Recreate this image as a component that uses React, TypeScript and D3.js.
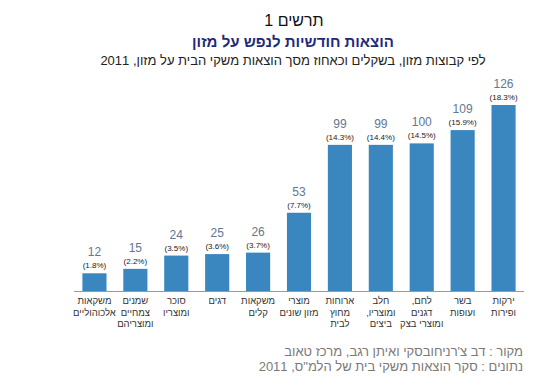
import React from "react";
import * as d3 from "d3";

const categories: string[][] = [
  ["משקאות", "אלכוהוליים"],
  ["שמנים", "צמחיים", "ומוצריהם"],
  ["סוכר", "ומוצריו"],
  ["דגים"],
  ["משקאות", "קלים"],
  ["מוצרי", "מזון שונים"],
  ["ארוחות", "מחוץ", "לבית"],
  ["חלב", "ומוצריו,", "ביצים"],
  ["לחם,", "דגנים", "ומוצרי בצק"],
  ["בשר", "ועופות"],
  ["ירקות", "ופירות"],
];
const values: number[] = [12, 15, 24, 25, 26, 53, 99, 99, 100, 109, 126];
const percents: number[] = [1.8, 2.2, 3.5, 3.6, 3.7, 7.7, 14.3, 14.4, 14.5, 15.9, 18.3];

const W = 536;
const H = 387;
const FONT = "'Liberation Sans', Arial, sans-serif";

export default function App() {
  const idx = values.map((_, i) => String(i));
  const x = d3.scaleBand<string>().domain(idx).range([74, 524]).paddingInner(0.41).paddingOuter(0.205);
  const y = d3.scaleLinear().domain([0, 126]).range([291, 105]);

  return (
    <svg width={W} height={H} style={{ position: "absolute", left: 0, top: 0, background: "#fff" }} fontFamily={FONT}>
      <text x={294} y={26} textAnchor="middle" fontSize={16} fontWeight="normal" fill="#111" direction="rtl">תרשים 1</text>
      <text x={293} y={47} textAnchor="middle" fontSize={15} fontWeight="bold" fill="#1f2a7a" direction="rtl">הוצאות חודשיות לנפש על מזון</text>
      <text x={293} y={65} textAnchor="middle" fontSize={13} fill="#222" direction="rtl">לפי קבוצות מזון, בשקלים וכאחוז מסך הוצאות משקי הבית על מזון, 2011</text>

      {values.map((v, i) => {
        const bx = x(String(i))!;
        const bw = x.bandwidth();
        const cx = bx + bw / 2;
        const top = y(v);
        return (
          <g key={i}>
            <rect x={bx} y={top} width={bw} height={y(0) - top} fill="#3a87c0" />
            <text x={cx} y={top - 17} textAnchor="middle" fontSize={12} fill="#62778f">{v}</text>
            <text x={cx} y={top - 5} textAnchor="middle" fontSize={8} fill="#222">({percents[i].toFixed(1)}%)</text>
            {categories[i].map((line, j) => (
              <text key={j} x={cx} y={304 + j * 11.5} textAnchor="middle" fontSize={9.5} fill="#333" direction="rtl">{line}</text>
            ))}
          </g>
        );
      })}
      <line x1={74} x2={524} y1={291.5} y2={291.5} stroke="#999" strokeWidth={1} />

      <text x={523} y={356} textAnchor="start" direction="rtl" fontSize={13} fill="#7a7a7a">מקור : דב צ'רניחובסקי ואיתן רגב, מרכז טאוב</text>
      <text x={523} y={371} textAnchor="start" direction="rtl" fontSize={13} fill="#7a7a7a">נתונים : סקר הוצאות משקי בית של הלמ"ס, 2011</text>
    </svg>
  );
}
